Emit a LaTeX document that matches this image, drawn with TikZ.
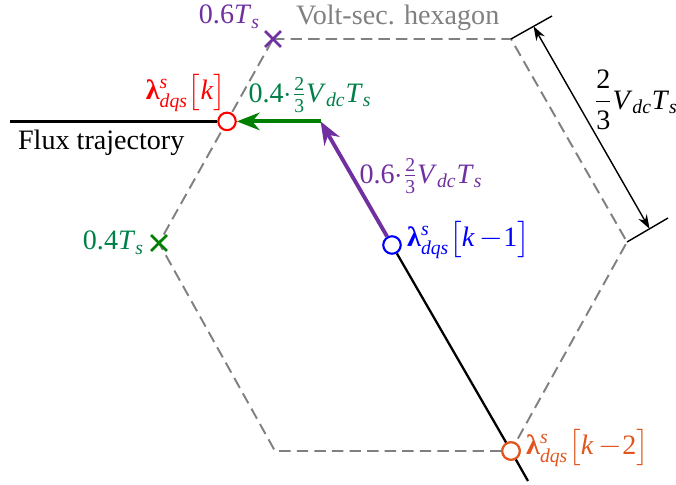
\documentclass[tikz,border=0pt]{standalone}
\usepackage{amsmath}
\usepackage{fontspec}
\setmainfont{LiberationSerif}[Extension=.ttf, UprightFont=*-Regular, ItalicFont=*-Italic, BoldFont=*-Bold, BoldItalicFont=*-BoldItalic]
\usetikzlibrary{arrows.meta, shapes.misc, calc}
\definecolor{vpurple}{RGB}{112,48,160}
\definecolor{vgreen}{RGB}{0,128,0}
\definecolor{tgreen}{RGB}{0,128,72}
\definecolor{vorange}{RGB}{226,86,30}
\definecolor{hexgray}{RGB}{128,128,128}
\newcommand{\mi}[1]{\textit{#1}}
\newcommand{\flux}{\textbf{λ}$^{\mi{s}}_{\mi{dqs}}$}
\newcommand{\Ts}{\mi{T}$_{\mi{s}}$}
\newcommand{\Vdc}{\mi{V}$_{\mi{dc}}$}
\begin{document}
\begin{tikzpicture}[
    x=0.02cm, y=-0.02cm,
    font=\fontsize{16}{19}\selectfont,
    every node/.style={inner sep=1pt},
    hexline/.style={hexgray, line width=1.1pt, dash pattern=on 6.5pt off 3.5pt},
    ring/.style={circle, draw=#1, fill=white, line width=1.2pt, minimum size=0.35cm, inner sep=0pt},
    mark/.style={cross out, draw=#1, line width=1.6pt, minimum size=0.26cm, inner sep=0pt},
    vec/.style={draw=#1, line width=2.2pt, -{Stealth[length=13pt, width=10pt]}},
    dim/.style={black, line width=0.8pt, {Stealth[length=8pt, width=5.5pt]}-{Stealth[length=8pt, width=5.5pt]}}
]
    \useasboundingbox (0,0) rectangle (676,484);
    % hexagon corners
    \coordinate (h1) at (273,39);
    \coordinate (h2) at (511,39);
    \coordinate (h3) at (627,242);
    \coordinate (h4) at (511,451);
    \coordinate (h5) at (275,451);
    \coordinate (h6) at (159,243);
    \draw[hexline] (h1) -- (h2) -- (h3) -- (h4) -- (h5) -- (h6) -- cycle;
    \node[text=hexgray, anchor=west] (hexlbl) at (294,18) {Volt-sec. hexagon};

    % dimension of one side
    \coordinate (d1) at (552,16);
    \coordinate (d2) at (668,218);
    \draw[black, line width=0.8pt] (h2) -- (d1);
    \draw[black, line width=0.8pt] (h3) -- (d2);
    \draw[dim] ($(h2)!0.55!(d1)$) -- ($(h3)!0.55!(d2)$);
    \node (dimlbl) at (636,100) {$\dfrac{\text{2}}{\text{3}}$\Vdc\Ts};

    % flux points
    \coordinate (ptip) at (320.6,121.4);
    \coordinate (tend) at (528,481);
    \coordinate (fstart) at (10,121.4);
    \node[ring=red] (lk) at (227,121.4) {};
    \node[ring=blue] (lk1) at (392,245) {};
    \node[ring=vorange] (lk2) at (511,451) {};
    \draw[black, line width=1.3pt] (lk1) -- (lk2) -- (tend);
    \draw[black, line width=1.3pt] (fstart) -- (lk);
    \node[ring=vorange] at (lk2) {};
    \draw[vec=vpurple] (lk1) -- (ptip);
    \draw[vec=vgreen] (ptip) -- (lk);
    \node[mark=vpurple] (m6) at (h1) {};
    \node[mark=vgreen] (m4) at (h6) {};

    % labels
    \node[anchor=west] (fluxlbl) at (16,143) {Flux trajectory};
    \node[text=red] (lklbl) at (186,93) {\flux$\big[$\mi{k}$\big]$};
    \node[text=blue, anchor=west] (lk1lbl) at (405,240) {\flux$\big[$\mi{k}$\,-$1$\big]$};
    \node[text=vorange, anchor=west] (lk2lbl) at (524,448) {\flux$\big[$\mi{k}$\,-$2$\big]$};
    \node[text=vpurple, anchor=east] (t6lbl) at (262,17) {0.6\Ts};
    \node[text=tgreen, anchor=east] (t4lbl) at (146,243) {0.4\Ts};
    \node[text=tgreen] (glbl) at (310,95) {0.4$\cdot\frac{\text{2}}{\text{3}}$\Vdc\Ts};
    \node[text=vpurple] (plbl) at (421,176) {0.6$\cdot\frac{\text{2}}{\text{3}}$\Vdc\Ts};
\end{tikzpicture}
\end{document}
